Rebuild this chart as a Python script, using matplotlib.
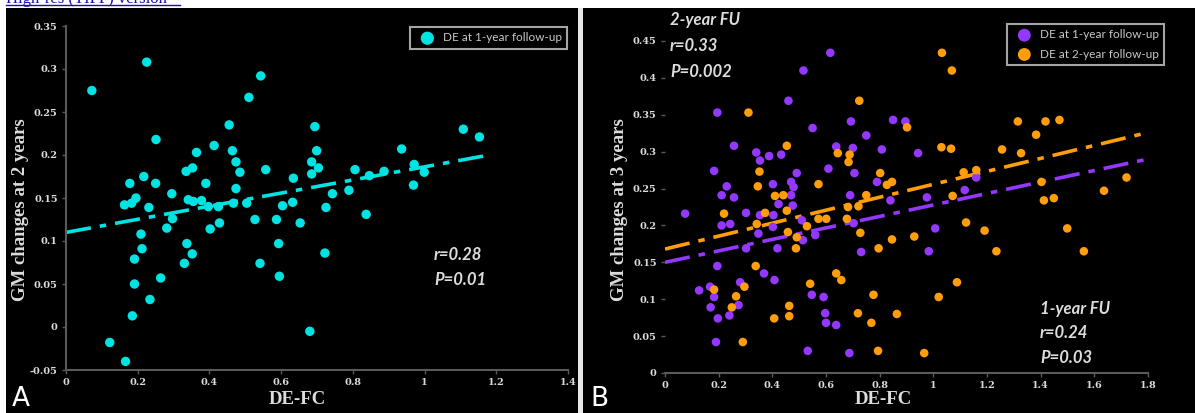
import matplotlib
matplotlib.use("Agg")
import matplotlib.pyplot as plt
from matplotlib.patches import Rectangle
from matplotlib.lines import Line2D
import numpy as np

W, H = 1195, 413

# ---------------- data ----------------
# Panel A: DE-FC vs GM changes at 2 years (DE at 1-year follow-up)
a_x = [0.072, 0.225, 0.251, 0.178, 0.217, 0.250, 0.163, 0.183, 0.195, 0.231,
       0.295, 0.297, 0.281, 0.209, 0.212, 0.191, 0.191, 0.264, 0.234, 0.185,
       0.122, 0.166, 0.335, 0.353, 0.364, 0.413, 0.390, 0.341, 0.355, 0.378,
       0.397, 0.425, 0.402, 0.428, 0.337, 0.352, 0.330, 0.455, 0.464, 0.474,
       0.485, 0.474, 0.467, 0.504, 0.510, 0.543, 0.557, 0.527, 0.541, 0.587,
       0.604, 0.593, 0.595, 0.634, 0.632, 0.653, 0.694, 0.699, 0.685, 0.704,
       0.685, 0.725, 0.743, 0.722, 0.680, 0.789, 0.806, 0.846, 0.837, 0.887,
       0.936, 0.971, 0.999, 0.969, 1.108, 1.153]
a_y = [0.275, 0.308, 0.218, 0.167, 0.175, 0.167, 0.142, 0.144, 0.150, 0.139,
       0.155, 0.126, 0.115, 0.108, 0.091, 0.079, 0.050, 0.057, 0.032, 0.013,
       -0.018, -0.040, 0.181, 0.185, 0.203, 0.211, 0.167, 0.148, 0.146, 0.147,
       0.140, 0.140, 0.114, 0.121, 0.097, 0.085, 0.074, 0.235, 0.205, 0.192,
       0.180, 0.161, 0.144, 0.144, 0.267, 0.292, 0.183, 0.125, 0.074, 0.125,
       0.141, 0.097, 0.059, 0.173, 0.145, 0.121, 0.233, 0.205, 0.192, 0.185,
       0.178, 0.139, 0.155, 0.086, -0.005, 0.159, 0.183, 0.176, 0.131, 0.181,
       0.207, 0.189, 0.180, 0.165, 0.230, 0.221]
a_fit_x = [0.0, 1.18]
a_fit_y = [0.110, 0.200]

# Panel B: DE-FC vs GM changes at 3 years
b1_x = [0.616, 0.516, 0.460, 0.195, 0.550, 0.693, 0.750, 0.850, 0.896, 0.257,
        0.340, 0.354, 0.388, 0.433, 0.638, 0.700, 0.808, 0.183, 0.491, 0.609,
        0.706, 0.230, 0.211, 0.257, 0.402, 0.470, 0.479, 0.470, 0.423, 0.476,
        0.690, 0.790, 0.840, 0.075, 0.302, 0.354, 0.404, 0.211, 0.243, 0.348,
        0.402, 0.510, 0.514, 0.560, 0.703, 0.302, 0.419, 0.731, 0.195, 0.369,
        0.408, 0.280, 0.127, 0.168, 0.183, 0.170, 0.274, 0.197, 0.240, 0.547,
        0.591, 0.597, 0.600, 0.638, 0.190, 0.532, 0.687, 0.943, 1.160, 1.117,
        0.976, 1.007, 0.983]
b1_y = [0.434, 0.410, 0.369, 0.353, 0.332, 0.341, 0.322, 0.343, 0.341, 0.308,
        0.299, 0.288, 0.294, 0.296, 0.307, 0.305, 0.303, 0.274, 0.271, 0.277,
        0.271, 0.253, 0.241, 0.238, 0.256, 0.259, 0.252, 0.241, 0.229, 0.227,
        0.241, 0.259, 0.234, 0.216, 0.217, 0.214, 0.214, 0.200, 0.202, 0.189,
        0.198, 0.207, 0.180, 0.187, 0.203, 0.169, 0.169, 0.164, 0.145, 0.135,
        0.126, 0.123, 0.112, 0.117, 0.103, 0.089, 0.092, 0.074, 0.078, 0.106,
        0.103, 0.081, 0.068, 0.065, 0.042, 0.030, 0.027, 0.298, 0.265, 0.248,
        0.238, 0.196, 0.165]
b2_x = [0.311, 0.724, 0.902, 0.454, 0.644, 0.688, 0.684, 0.352, 0.346, 0.572,
        0.802, 0.827, 0.846, 0.410, 0.441, 0.454, 0.220, 0.373, 0.682, 0.721,
        0.750, 0.342, 0.529, 0.572, 0.601, 0.678, 0.458, 0.491, 0.728, 0.488,
        0.796, 0.846, 0.338, 0.638, 0.657, 0.541, 0.183, 0.296, 0.265, 0.249,
        0.777, 0.463, 0.463, 0.407, 0.719, 0.769, 0.864, 0.290, 0.794, 1.032,
        1.069, 1.315, 1.418, 1.470, 1.383, 1.030, 1.066, 1.256, 1.327, 1.113,
        1.160, 1.403, 1.720, 1.636, 1.072, 1.412, 1.449, 1.122, 1.191, 0.929,
        1.499, 1.235, 1.561, 1.088, 1.020, 0.966]
b2_y = [0.353, 0.369, 0.333, 0.308, 0.298, 0.296, 0.286, 0.273, 0.253, 0.256,
        0.271, 0.255, 0.259, 0.240, 0.241, 0.220, 0.216, 0.217, 0.225, 0.226,
        0.241, 0.202, 0.199, 0.209, 0.209, 0.209, 0.191, 0.184, 0.190, 0.169,
        0.169, 0.181, 0.145, 0.135, 0.126, 0.121, 0.113, 0.117, 0.104, 0.089,
        0.106, 0.091, 0.077, 0.074, 0.081, 0.068, 0.080, 0.042, 0.030, 0.434,
        0.410, 0.341, 0.341, 0.343, 0.323, 0.306, 0.304, 0.303, 0.298, 0.272,
        0.275, 0.259, 0.265, 0.247, 0.240, 0.234, 0.237, 0.204, 0.193, 0.185,
        0.196, 0.165, 0.165, 0.123, 0.103, 0.027]
b1_fit_x = [0.0, 1.8]
b1_fit_y = [0.150, 0.290]
b2_fit_x = [0.0, 1.8]
b2_fit_y = [0.168, 0.326]

a_xticks = [0, 0.2, 0.4, 0.6, 0.8, 1.0, 1.2, 1.4]
a_xticklabels = ["0", "0.2", "0.4", "0.6", "0.8", "1", "1.2", "1.4"]
a_yticks = [-0.05, 0, 0.05, 0.1, 0.15, 0.2, 0.25, 0.3, 0.35]
a_yticklabels = ["-0.05", "0", "0.05", "0.1", "0.15", "0.2", "0.25", "0.3", "0.35"]
b_xticks = [0, 0.2, 0.4, 0.6, 0.8, 1.0, 1.2, 1.4, 1.6, 1.8]
b_xticklabels = ["0", "0.2", "0.4", "0.6", "0.8", "1", "1.2", "1.4", "1.6", "1.8"]
b_yticks = [0, 0.05, 0.1, 0.15, 0.2, 0.25, 0.3, 0.35, 0.4, 0.45]
b_yticklabels = ["0", "0.05", "0.1", "0.15", "0.2", "0.25", "0.3", "0.35", "0.4", "0.45"]

# ---------------- styling ----------------
CYAN = "#00e3e3"
PURPLE = "#9538ff"
ORANGE = "#ff9d0a"
TXT = "#dcdcdc"
SPINE = "#5a5a5a"
SERIF = "Liberation Serif"
TICKFONT = "DejaVu Serif"
SANS = "Lato"
DASHDOT = (0, (7, 2.5, 1.8, 2.5))


def fx(px):
    return px / W


def fy(py):
    return 1 - py / H


fig = plt.figure(figsize=(W / 100, H / 100), dpi=100, facecolor="white")

# black canvas and white divider (behind the axes)
fig.patches.append(Rectangle((fx(6), 0), 1 - fx(6), fy(8), transform=fig.transFigure,
                             facecolor="black", edgecolor="none", zorder=-10))
fig.patches.append(Rectangle((fx(578), 0), fx(5), fy(8), transform=fig.transFigure,
                             facecolor="#e8e8e8", edgecolor="none", zorder=-9))

# top link text (cut off at the top edge, as in the reference)
fig.text(fx(6), fy(3), "High-res (TIFF) version", color="#1a0dab", fontsize=12,
         family=SERIF, ha="left", va="baseline")
fig.lines.append(Line2D([fx(6), fx(180)], [fy(4.5), fy(4.5)], transform=fig.transFigure,
                        color="#1a0dab", lw=1))


def style_axes(ax, xt, xtl, yt, ytl, show_left=True):
    ax.set_facecolor("black")
    for s in ["top", "right"]:
        ax.spines[s].set_visible(False)
    ax.spines["bottom"].set_color(SPINE)
    ax.spines["bottom"].set_linewidth(1.5)
    ax.spines["left"].set_color(SPINE)
    ax.spines["left"].set_linewidth(1.5)
    ax.spines["left"].set_visible(show_left)
    ax.set_xticks(xt)
    ax.set_xticklabels(xtl)
    ax.set_yticks(yt)
    ax.set_yticklabels(ytl)
    ax.tick_params(colors=SPINE, length=3, width=1, labelcolor=TXT, labelsize=7, pad=3)
    for lab in ax.get_xticklabels() + ax.get_yticklabels():
        lab.set_family(TICKFONT)
        lab.set_fontweight("bold")


# ---------- Panel A ----------
axA = fig.add_axes([fx(66), 1 - 370 / H, (568 - 66) / W, (370 - 26) / H])
axA.set_xlim(0, 1.4)
axA.set_ylim(-0.05, 0.35)
style_axes(axA, a_xticks, a_xticklabels, a_yticks, a_yticklabels)
axA.plot(a_fit_x, a_fit_y, color=CYAN, lw=2.6, linestyle=DASHDOT, zorder=2)
axA.scatter(a_x, a_y, s=46, color=CYAN, edgecolors="none", zorder=3,
            label="DE at 1-year follow-up")
legA = axA.legend(loc="upper right", bbox_to_anchor=(fx(567), fy(27)),
                  bbox_transform=fig.transFigure, borderaxespad=0,
                  frameon=True, facecolor="black", edgecolor="#cfcfcf",
                  prop={"family": SANS, "size": 8.5}, handletextpad=0.3,
                  borderpad=0.45, markerscale=1.4, fancybox=False)
legA.get_frame().set_linewidth(1.5)
for t in legA.get_texts():
    t.set_color("#c8c8c8")
fig.text(fx(21), fy(210), "GM changes at 2 years", rotation=90, color=TXT,
         family=SERIF, fontweight="bold", fontsize=13.5, ha="center", va="center")
fig.text(fx(297), fy(399), "DE-FC", color=TXT, family=SERIF, fontweight="bold",
         fontsize=13.5, ha="center", va="center")
fig.text(fx(434), fy(255), "r=0.28", color=TXT, family=SANS, fontweight="bold",
         style="italic", fontsize=12, ha="left", va="center")
fig.text(fx(434), fy(280), "P=0.01", color=TXT, family=SANS, fontweight="bold",
         style="italic", fontsize=12, ha="left", va="center")
fig.text(fx(12), fy(399), "A", color="white", family="DejaVu Sans", fontsize=19,
         ha="left", va="center")

# ---------- Panel B ----------
axB = fig.add_axes([fx(665), 1 - 373 / H, (1148 - 665) / W, (373 - 41) / H])
axB.set_xlim(0, 1.8)
axB.set_ylim(0, 0.45)
style_axes(axB, b_xticks, b_xticklabels, b_yticks, b_yticklabels, show_left=False)
axB.plot(b2_fit_x, b2_fit_y, color=ORANGE, lw=2.6, linestyle=DASHDOT, zorder=2)
axB.plot(b1_fit_x, b1_fit_y, color=PURPLE, lw=2.6, linestyle=DASHDOT, zorder=2)
axB.scatter(b1_x, b1_y, s=38, color=PURPLE, edgecolors="none", zorder=3,
            label="DE at 1-year follow-up")
axB.scatter(b2_x, b2_y, s=38, color=ORANGE, edgecolors="none", zorder=4,
            label="DE at 2-year follow-up")
legB = axB.legend(loc="upper right", bbox_to_anchor=(fx(1164), fy(24)),
                  bbox_transform=fig.transFigure, borderaxespad=0,
                  frameon=True, facecolor="black", edgecolor="#cfcfcf",
                  prop={"family": SANS, "size": 8.5}, handletextpad=0.3,
                  borderpad=0.45, labelspacing=0.7, markerscale=1.5, fancybox=False)
legB.get_frame().set_linewidth(1.5)
for t in legB.get_texts():
    t.set_color("#c8c8c8")
fig.text(fx(619), fy(210), "GM changes at 3 years", rotation=90, color=TXT,
         family=SERIF, fontweight="bold", fontsize=13.5, ha="center", va="center")
fig.text(fx(883), fy(399), "DE-FC", color=TXT, family=SERIF, fontweight="bold",
         fontsize=13.5, ha="center", va="center")
for i, s in enumerate(["2-year FU", "r=0.33", "P=0.002"]):
    fig.text(fx(670), fy(20 + 26 * i), s, color=TXT, family=SANS, fontweight="bold",
             style="italic", fontsize=12, ha="left", va="center")
for i, s in enumerate(["1-year FU", "r=0.24", "P=0.03"]):
    fig.text(fx(1040), fy(309 + 24.5 * i), s, color=TXT, family=SANS, fontweight="bold",
             style="italic", fontsize=12, ha="left", va="center")
fig.text(fx(590), fy(399), "B", color="white", family="DejaVu Sans", fontsize=19,
         ha="left", va="center")

fig.savefig("out.png", dpi=100, facecolor=fig.get_facecolor())
